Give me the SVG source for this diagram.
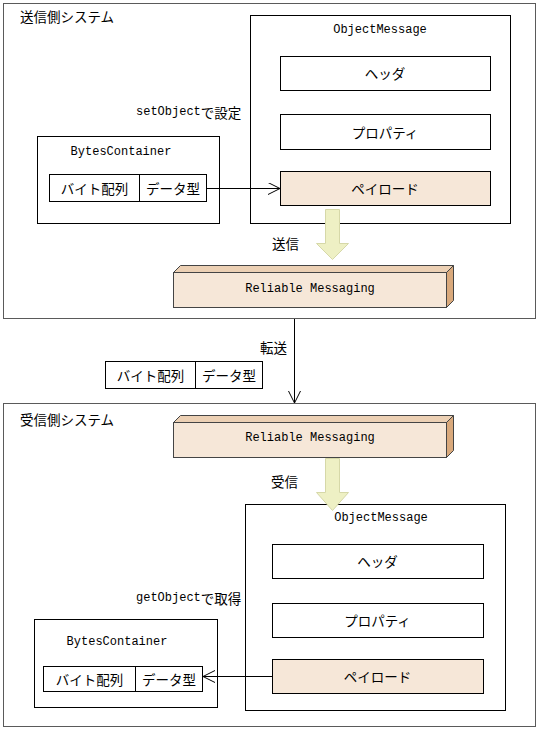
<svg xmlns="http://www.w3.org/2000/svg" width="539" height="729" viewBox="0 0 539 729">
<defs>
<style>
.sys{fill:#fff;stroke:#5a5a5a;stroke-width:1}
.box{fill:#fff;stroke:#000;stroke-width:1}
.pay{fill:#f6e7d8;stroke:#000;stroke-width:1}
.front{fill:#f6e7d8;stroke:#444;stroke-width:1}
.top{fill:#ecd0b4;stroke:#444;stroke-width:1}
.side{fill:#d9a97c;stroke:#444;stroke-width:1}
.barrow{fill:#eef0c4;stroke:#d6d8a8;stroke-width:1}
.line{fill:none;stroke:#000;stroke-width:1}
.mono{font-family:"Liberation Mono","Noto Sans CJK JP",monospace;font-size:12px;fill:#000}
.jp{font-family:"Noto Sans CJK JP","Noto Sans",sans-serif;font-size:13.5px;fill:#000}
text{dominant-baseline:central}
.c{text-anchor:middle}
</style>
<marker id="open" markerWidth="14" markerHeight="14" refX="12" refY="6" orient="auto" markerUnits="userSpaceOnUse">
<path d="M0,0 L12,6 L0,12" fill="none" stroke="#000" stroke-width="1"/>
</marker>
</defs>

<g id="sender-system">
<rect class="sys" x="3.5" y="3.5" width="532" height="315"/>
<text class="jp" x="20" y="16">送信側システム</text>
</g>

<g id="receiver-system">
<rect class="sys" x="3.5" y="403.5" width="532" height="323"/>
<text class="jp" x="20" y="419">受信側システム</text>
</g>

<g id="send-objectmessage">
<rect class="box" x="250.5" y="15.5" width="260" height="208"/>
<text class="mono c" x="380" y="30">ObjectMessage</text>
</g>
<g id="send-header">
<rect class="box" x="280.5" y="56.5" width="210" height="34"/>
<text class="jp c" x="385" y="73">ヘッダ</text>
</g>
<g id="send-property">
<rect class="box" x="280.5" y="114.5" width="210" height="35"/>
<text class="jp c" x="385" y="132">プロパティ</text>
</g>
<g id="send-payload">
<rect class="pay" x="280.5" y="171.5" width="210" height="34"/>
<text class="jp c" x="385" y="188">ペイロード</text>
</g>

<g id="send-bytescontainer">
<rect class="box" x="37.5" y="136.5" width="182" height="87"/>
<text class="mono c" x="121" y="152">BytesContainer</text>
<rect class="box" x="49.5" y="174.5" width="90" height="27"/>
<rect class="box" x="139.5" y="174.5" width="67" height="27"/>
<text class="jp c" x="94.5" y="188">バイト配列</text>
<text class="jp c" x="173" y="188">データ型</text>
</g>

<g id="send-label">
<text x="136" y="112"><tspan class="mono">setObject</tspan><tspan class="jp">で設定</tspan></text>
</g>

<g id="send-rm">
<polygon class="top" points="173.5,272.5 180.5,265.5 453.5,265.5 446.5,272.5"/>
<polygon class="side" points="446.5,272.5 453.5,265.5 453.5,300.5 446.5,307.5"/>
<rect class="front" x="173.5" y="272.5" width="273" height="35"/>
<text class="mono c" x="310" y="289">Reliable Messaging</text>
</g>

<g id="transfer-data">
<rect class="box" x="105.5" y="361.5" width="90" height="27"/>
<rect class="box" x="195.5" y="361.5" width="67" height="27"/>
<text class="jp c" x="150.5" y="375">バイト配列</text>
<text class="jp c" x="229" y="375">データ型</text>
</g>

<g id="recv-rm">
<polygon class="top" points="173.5,422.5 180.5,415.5 453.5,415.5 446.5,422.5"/>
<polygon class="side" points="446.5,422.5 453.5,415.5 453.5,450.5 446.5,457.5"/>
<rect class="front" x="173.5" y="422.5" width="273" height="35"/>
<text class="mono c" x="310" y="438">Reliable Messaging</text>
</g>

<g id="recv-objectmessage">
<rect class="box" x="245.5" y="504.5" width="260" height="206"/>
<text class="mono c" x="381" y="518">ObjectMessage</text>
</g>
<g id="recv-header">
<rect class="box" x="272.5" y="544.5" width="211" height="34"/>
<text class="jp c" x="377.5" y="561">ヘッダ</text>
</g>
<g id="recv-property">
<rect class="box" x="272.5" y="603.5" width="211" height="34"/>
<text class="jp c" x="377.5" y="620">プロパティ</text>
</g>
<g id="recv-payload">
<rect class="pay" x="272.5" y="659.5" width="211" height="34"/>
<text class="jp c" x="377.5" y="676">ペイロード</text>
</g>

<g id="recv-bytescontainer">
<rect class="box" x="34.5" y="619.5" width="183" height="88"/>
<text class="mono c" x="117" y="642">BytesContainer</text>
<rect class="box" x="43.5" y="666.5" width="92" height="25"/>
<rect class="box" x="135.5" y="666.5" width="67" height="25"/>
<text class="jp c" x="89.5" y="679">バイト配列</text>
<text class="jp c" x="169" y="679">データ型</text>
</g>

<g id="recv-label">
<text x="136" y="598"><tspan class="mono">getObject</tspan><tspan class="jp">で取得</tspan></text>
</g>

<g id="connectors">
<line class="line" x1="207" y1="188.5" x2="280" y2="188.5" marker-end="url(#open)"/>
<polygon class="barrow" points="325.5,209.5 339.5,209.5 339.5,243.5 348.5,243.5 332.5,259.5 316.5,243.5 325.5,243.5"/>
<text class="jp" x="272" y="243">送信</text>
<line class="line" x1="294.5" y1="319" x2="294.5" y2="403" marker-end="url(#open)"/>
<text class="jp" x="260" y="347">転送</text>
<polygon class="barrow" points="325.5,458.5 339.5,458.5 339.5,492.5 348.5,492.5 332.5,510.5 316.5,492.5 325.5,492.5"/>
<text class="jp" x="271" y="481">受信</text>
<line class="line" x1="272" y1="676.5" x2="203" y2="676.5" marker-end="url(#open)"/>
</g>
</svg>
